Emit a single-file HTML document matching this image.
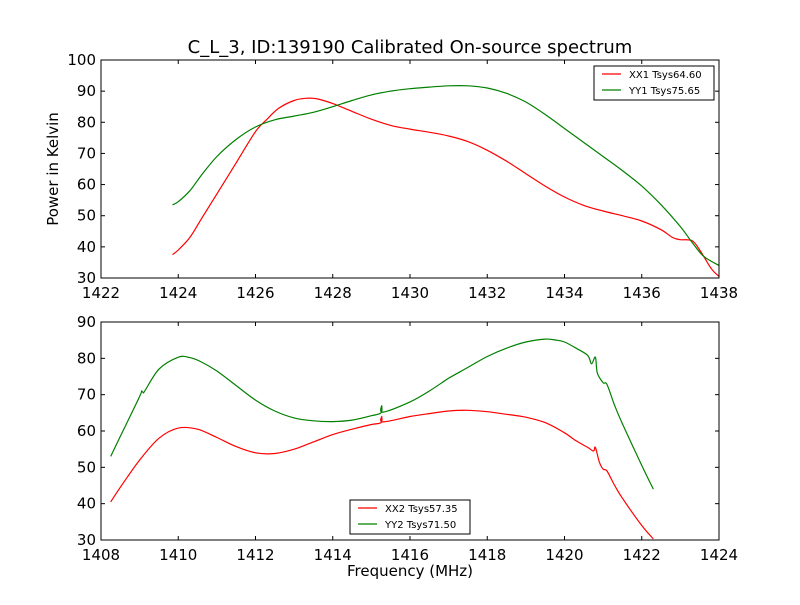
<!DOCTYPE html>
<html><head><meta charset="utf-8"><style>
body{margin:0;background:#fff}
svg text{font-family:"DejaVu Sans","Liberation Sans",sans-serif;fill:#000}
</style></head><body>
<svg id="c" width="800" height="600" xmlns="http://www.w3.org/2000/svg">
<rect width="800" height="600" fill="#fff"/>
<text x="410" y="53" font-size="18" text-anchor="middle">C_L_3, ID:139190 Calibrated On-source spectrum</text>
<text x="410" y="576" font-size="15" text-anchor="middle">Frequency (MHz)</text>
<text transform="translate(58,169) rotate(-90)" font-size="15" text-anchor="middle">Power in Kelvin</text>
</svg>
<script>
const xx1X=[1423.85,1424,1424.3,1424.6,1425,1425.5,1426,1426.3,1426.6,1427,1427.3,1427.6,1428,1428.5,1429,1429.5,1430,1430.5,1431,1431.5,1432,1432.5,1433,1433.5,1434,1434.5,1435,1435.5,1436,1436.5,1436.8,1437,1437.3,1437.5,1437.8,1438];
const xx1Y=[37.5,39,43,49,57,67,77,81,84.5,87,87.7,87.5,86,83.5,81,79,77.8,76.8,75.6,73.8,71,67.5,63.5,59.5,56,53.3,51.5,50,48.3,45.5,43,42.3,42,39,33,30.5];
const yy1X=[1423.85,1424,1424.3,1424.6,1425,1425.5,1426,1426.5,1427,1427.5,1428,1428.5,1429,1429.5,1430,1430.5,1431,1431.5,1432,1432.5,1433,1433.5,1434,1434.5,1435,1435.5,1436,1436.5,1437,1437.3,1437.6,1438];
const yy1Y=[53.5,54.5,58,63,69,74.5,78.5,80.8,82,83.2,85,87,88.8,90,90.8,91.3,91.7,91.7,91,89.3,86.5,82.5,78,73.5,69,64.5,59.5,53.5,46.5,41.5,37,34];
const xx2X=[1408.25,1408.5,1409,1409.5,1410,1410.5,1411,1411.5,1412,1412.5,1413,1413.5,1414,1414.5,1415,1415.25,1415.27,1415.3,1416,1416.5,1417,1417.5,1418,1418.5,1419,1419.5,1420,1420.3,1420.6,1420.75,1420.8,1420.9,1421,1421.1,1421.3,1421.5,1422,1422.3];
const xx2Y=[40.5,44.5,52,58,60.8,60.5,58.2,55.7,54,53.8,55,57,59,60.5,61.8,62.3,64,62.5,64,64.8,65.5,65.7,65.3,64.6,63.8,62.3,59.5,57.3,55.5,54.5,55.5,51.5,49.5,49,45,41.5,34,30.3];
const yy2X=[1408.25,1408.5,1409,1409.05,1409.1,1409.5,1410,1410.3,1410.6,1411,1411.5,1412,1412.5,1413,1413.5,1414,1414.5,1415,1415.25,1415.27,1415.3,1416,1416.5,1417,1417.5,1418,1418.5,1419,1419.5,1419.8,1420,1420.3,1420.6,1420.7,1420.8,1420.85,1421,1421.1,1421.3,1421.5,1422,1422.3];
const yy2Y=[53,58.5,69.5,71,70.5,77,80.3,80.2,79,76.5,72.5,68.5,65.5,63.6,62.8,62.6,63,64.2,65,67,65.2,68,71,74.5,77.5,80.5,82.8,84.5,85.3,85,84.5,82.8,80.8,78.5,80.3,76,73.3,72.8,67,62,50.5,44];
const topXTicks=[1422,1424,1426,1428,1430,1432,1434,1436,1438];
const topYTicks=[30,40,50,60,70,80,90,100];
const botXTicks=[1408,1410,1412,1414,1416,1418,1420,1422,1424];
const botYTicks=[30,40,50,60,70,80,90];
const topLegend=["XX1 Tsys64.60","YY1 Tsys75.65"];
const botLegend=["XX2 Tsys57.35","YY2 Tsys71.50"];

const svg=document.getElementById('c');
const NS='http://www.w3.org/2000/svg';
function mk(t,a){const e=document.createElementNS(NS,t);for(const k in a)e.setAttribute(k,a[k]);svg.appendChild(e);return e;}
function smooth(P){
  let d='M'+P[0][0].toFixed(1)+','+P[0][1].toFixed(1);
  for(let i=0;i<P.length-1;i++){
    const p0=P[Math.max(i-1,0)],p1=P[i],p2=P[i+1],p3=P[Math.min(i+2,P.length-1)];
    const seg=Math.hypot(p2[0]-p1[0],p2[1]-p1[1]);
    const k=seg<4?0:1/6;
    const c1=[p1[0]+(p2[0]-p0[0])*k,p1[1]+(p2[1]-p0[1])*k];
    const c2=[p2[0]-(p3[0]-p1[0])*k,p2[1]-(p3[1]-p1[1])*k];
    d+=' C'+c1.map(v=>v.toFixed(1))+' '+c2.map(v=>v.toFixed(1))+' '+p2.map(v=>v.toFixed(1));
  }
  return d;
}
function panel(name,L,T,W,H,x0,x1,y0,y1,xt,yt,series,leg,lx,ly){
  const sx=v=>L+(v-x0)/(x1-x0)*W, sy=v=>T+H-(v-y0)/(y1-y0)*H;
  mk('clipPath',{id:'clip-'+name}).appendChild(document.createElementNS(NS,'rect'));
  const cr=svg.lastChild.firstChild;cr.setAttribute('x',L);cr.setAttribute('y',T);cr.setAttribute('width',W);cr.setAttribute('height',H);
  series.forEach((s,i)=>{
    const p=mk('path',{d:smooth(s.x.map((v,j)=>[sx(v),sy(s.y[j])])),fill:'none',stroke:s.c,'stroke-width':1.2,'clip-path':'url(#clip-'+name+')'});
    
    
  });
  const fr=mk('rect',{x:L,y:T,width:W,height:H,fill:'none',stroke:'#000','stroke-width':1});
  
  
  xt.forEach(v=>{const x=sx(v);
    mk('line',{x1:x,x2:x,y1:T+H,y2:T+H-4,stroke:'#000'});mk('line',{x1:x,x2:x,y1:T,y2:T+4,stroke:'#000'});
    const t=mk('text',{x:x,y:T+H+20,'font-size':15,'text-anchor':'middle'});t.textContent=v;
    
    });
  yt.forEach(v=>{const y=sy(v);
    mk('line',{x1:L,x2:L+4,y1:y,y2:y,stroke:'#000'});mk('line',{x1:L+W,x2:L+W-4,y1:y,y2:y,stroke:'#000'});
    const t=mk('text',{x:L-5,y:y+5,'font-size':15,'text-anchor':'end'});t.textContent=v;
    
    });
  const lb=mk('rect',{x:lx,y:ly,width:120,height:34,fill:'#fff',stroke:'#000'});
  
  
  leg.forEach((l,i)=>{const y=ly+8+i*16;
    mk('line',{x1:lx+8,x2:lx+27,y1:y,y2:y,stroke:series[i].c,'stroke-width':1.2});
    const t=mk('text',{x:lx+35,y:y+4,'font-size':10});t.textContent=l;
    
    });
}
panel('top',101,60,618,218,1422,1438,30,100,topXTicks,topYTicks,[{x:xx1X,y:xx1Y,c:'#ff0000'},{x:yy1X,y:yy1Y,c:'#008000'}],topLegend,594,66);
panel('bottom',101,322,618,218,1408,1424,30,90,botXTicks,botYTicks,[{x:xx2X,y:xx2Y,c:'#ff0000'},{x:yy2X,y:yy2Y,c:'#008000'}],botLegend,350,500);
</script>
</body></html>
